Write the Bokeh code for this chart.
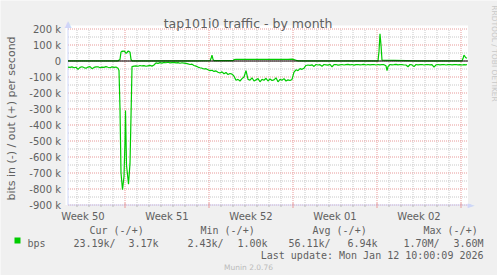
import math
from bokeh.plotting import figure
from bokeh.models import Label, BoxAnnotation
from bokeh.core.properties import value
from bokeh.embed import file_html
from bokeh.resources import INLINE

# ---------------- data (hours since left edge of graph, kbit/s) ----------------
in_hours = [0, 4, 8, 12, 16, 20, 24, 28, 32, 36, 40, 44, 48, 52, 56, 60, 64, 68, 72, 76,
            80, 84, 88, 92, 96, 100, 102, 104, 106, 109, 112, 114, 115, 117, 121, 124, 127, 128,
            132, 136, 140, 144, 148, 152, 156, 160, 164, 168, 172, 176, 180, 184, 188, 192,
            196, 200, 204, 208, 212, 216, 220, 224, 228, 232, 236, 240, 244, 248, 252, 256,
            260, 264, 268, 272, 276, 280, 284, 288, 292, 296, 300, 304, 308, 312, 316, 320,
            324, 328, 332, 336, 340, 344, 348, 352, 356, 360, 364, 368, 372, 376, 380, 384,
            388, 392, 396, 400, 404, 408, 412, 416, 420, 424, 428, 432, 436, 440, 444, 448,
            452, 456, 460, 464, 468, 472, 476, 480, 484, 488, 492, 496, 500, 504, 508, 512,
            516, 520, 524, 528, 532, 536, 540, 544, 548, 552, 556, 560, 564, 568, 572, 576,
            580, 584, 588, 592, 596, 600, 604, 608, 612, 616, 620, 624, 628, 632, 636, 638,
            640, 644, 648, 652, 656, 660, 664, 668, 672, 676, 680, 684, 688, 692, 696, 700,
            704, 708, 712, 716, 720, 724, 728, 732, 736, 740, 744, 748, 752, 756, 760, 764,
            768, 772, 776, 780, 784, 788, 792, 796, 798]
in_kbits = [38, 40, 37, 42, 39, 52, 40, 36, 41, 45, 38, 35, 48, 40, 37, 36, 42, 38, 40, 35,
            39, 42, 37, 40, 38, 45, 60, 300, 700, 805, 720, 500, 310, 650, 770, 640, 200, 35,
            32, 30, 33, 28, 31, 29, 33, 30, 27, 32, 25, 12, 15, 10, 13, 9,
            11, 8, 12, 10, 9, 12, 10, 14, 11, 13, 15, 18, 22, 20, 28, 32,
            38, 42, 45, 50, 48, 55, 60, 58, 65, 62, 70, 75, 68, 80, 72, 85,
            78, 82, 95, 120, 115, 125, 110, 100, 60, 115, 120, 105, 125, 118, 110, 130,
            115, 120, 108, 125, 112, 122, 118, 105, 130, 115, 120, 110, 125, 118, 122, 115,
            70, 55, 60, 48, 52, 45, 28, 25, 27, 24, 34, 22, 25, 23, 33, 22,
            24, 26, 21, 36, 23, 22, 26, 24, 22, 25, 23, 21, 24, 22, 26, 23,
            22, 24, 23, 21, 25, 22, 24, 23, 22, 25, 22, 24, 22, 23, 30, 60,
            35, 22, 24, 23, 21, 24, 22, 23, 25, 25, 36, 22, 24, 35, 22, 24,
            23, 22, 25, 23, 22, 24, 23, 38, 24, 22, 24, 23, 22, 25, 23, 22,
            24, 23, 22, 24, 23, 25, 23, 24, 22]

out_hours = [0, 40, 80, 100, 104, 106, 108, 110, 112, 114, 116, 118, 120, 122, 124, 126, 128,
             180, 240, 284, 286, 288, 290, 292, 330, 332, 336, 360, 400, 440, 448, 452, 456,
             460, 540, 600, 620, 622, 624, 626, 628, 700, 788, 790, 792, 794, 796, 798]
out_kbits = [1, 1, 1, 1, 10, 55, 62, 60, 63, 58, 48, 52, 62, 60, 55, 10, 1,
             1, 1, 2, 15, 37, 10, 2, 2, 9, 10, 11, 10, 10, 12, 9, 5,
             1, 1, 1, 1, 60, 170, 100, 5, 1, 1, 15, 37, 28, 20, 17]

week_labels = ["Week 50", "Week 51", "Week 52", "Week 01", "Week 02"]
week_label_days = [1.25, 8.25, 15.25, 22.25, 29.25]
week_start_days = [4.75, 11.75, 18.75, 25.75, 32.75]
day_ticks = [0.75, 1.75, 2.75, 3.75, 5.75, 6.75, 7.75, 8.75, 9.75, 10.75, 12.75, 13.75,
             14.75, 15.75, 16.75, 17.75, 19.75, 20.75, 21.75, 22.75, 23.75, 24.75, 26.75,
             27.75, 28.75, 29.75, 30.75, 31.75]

y_ticks = [200000, 100000, 0, -100000, -200000, -300000, -400000, -500000, -600000,
           -700000, -800000, -900000]
y_tick_labels = ["200 k", "100 k", "0", "-100 k", "-200 k", "-300 k", "-400 k", "-500 k",
                 "-600 k", "-700 k", "-800 k", "-900 k"]
y_minor = [150000, 50000, -50000, -150000, -250000, -350000, -450000, -550000, -650000,
           -750000, -850000]

legend_headers = ["Cur (-/+)", "Min (-/+)", "Avg (-/+)", "Max (-/+)"]
legend_values = ["23.19k/", "3.17k", "2.43k/", "1.00k", "56.11k/", "6.94k", "1.70M/", "3.60M"]
series_name = "bps"
title_text = "tap101i0 traffic - by month"
ylabel_text = "bits in (-) / out (+) per second"
last_update = "Last update: Mon Jan 12 10:00:09 2026"
watermark = "Munin 2.0.76"
side_text = "RRDTOOL / TOBI OETIKER"

# ---------------- layout / style ----------------
W, H = 497, 275
X0_PX = 67.5          # canvas x of the graph's left edge (day 0)
ZERO_PY = 60.5        # canvas y of value 0
DAY_PX = 12.0         # pixels per day
VAL_PER_PX = 6250.0   # value units per pixel (16 px per 100 k)
Y_MIN, Y_MAX = -900000, 200000
X_MAX = 400 / DAY_PX  # graph is 400 px wide

FONT = "#606060"
AXIS = "#CFD6F8"
MGRID = "#E89A9A"
GRID = "#C8C8C8"
GREEN = "#00CC00"

p = figure(width=W, height=H, output_backend="svg", toolbar_location=None,
           x_range=(-X0_PX / DAY_PX, (W - X0_PX) / DAY_PX),
           y_range=(-(H - ZERO_PY) * VAL_PER_PX, ZERO_PY * VAL_PER_PX),
           x_axis_type=None, y_axis_type=None,
           min_border=0, min_border_left=0, min_border_right=0,
           min_border_top=0, min_border_bottom=0)
p.background_fill_color = "#F0F0F0"
p.border_fill_color = "#F0F0F0"
p.outline_line_color = None

px_d = 1 / DAY_PX     # one pixel in days
px_v = VAL_PER_PX     # one pixel in value units

# white canvas of the graph
p.add_layout(BoxAnnotation(left=-2.5 * px_d, right=X_MAX, bottom=Y_MIN,
                           top=Y_MAX + 3.5 * px_v, fill_color="white", fill_alpha=1,
                           line_color=None, level="underlay"))

# grid (dotted)
n_d = len(day_ticks)
p.segment(x0=day_ticks, y0=[Y_MIN] * n_d, x1=day_ticks, y1=[Y_MAX] * n_d,
          line_color=GRID, line_width=1, line_dash="1 1")
n_ym = len(y_minor)
p.segment(x0=[0] * n_ym, y0=y_minor, x1=[X_MAX] * n_ym, y1=y_minor,
          line_color=GRID, line_width=1, line_dash="1 1")
n_w = len(week_start_days)
p.segment(x0=week_start_days, y0=[Y_MIN] * n_w, x1=week_start_days, y1=[Y_MAX] * n_w,
          line_color=MGRID, line_width=1, line_dash="1 1")
n_y = len(y_ticks)
p.segment(x0=[0] * n_y, y0=y_ticks, x1=[X_MAX] * n_y, y1=y_ticks,
          line_color=MGRID, line_width=1, line_dash="1 1")

# axes
p.segment(x0=[0], y0=[Y_MIN], x1=[0], y1=[Y_MAX + 4 * px_v], line_color=AXIS, line_width=1)
p.segment(x0=[0], y0=[Y_MIN], x1=[X_MAX + 3 * px_d], y1=[Y_MIN], line_color=AXIS,
          line_width=1)
p.segment(x0=day_ticks, y0=[Y_MIN] * n_d, x1=day_ticks, y1=[Y_MIN - 2 * px_v] * n_d,
          line_color="#B8B8B8", line_width=1)
p.segment(x0=week_start_days, y0=[Y_MIN + 2 * px_v] * n_w, x1=week_start_days,
          y1=[Y_MIN - 3 * px_v] * n_w, line_color=MGRID, line_width=1)

# y tick labels
p.text(x=[0] * n_y, y=y_ticks, text=y_tick_labels, x_offset=-7,
       text_font=value("DejaVu Sans"), text_font_size="10px", text_color=FONT,
       text_align="right", text_baseline="middle")

# data
in_days = [h / 24 for h in in_hours]
in_vals = [-k * 1000 for k in in_kbits]
out_days = [h / 24 for h in out_hours]
out_vals = [k * 1000 for k in out_kbits]

p.line(in_days, in_vals, line_color=GREEN, line_width=1.2)
p.line(out_days, out_vals, line_color=GREEN, line_width=1.2)
p.segment(x0=[0], y0=[0], x1=[X_MAX], y1=[0], line_color="black", line_width=1)


def lab(text, cx, cy, size, font="DejaVu Sans", color=FONT, align="left",
        baseline="alphabetic", angle=0.0):
    p.add_layout(Label(x=cx, y=H - cy, x_units="screen", y_units="screen", text=text,
                       text_font=font, text_font_size=size, text_color=color,
                       text_align=align, text_baseline=baseline, angle=angle))


# title, axis label, side text
lab(title_text, 247.5, 23, "12.5px", align="center")
lab(ylabel_text, 11, 118, "11px", align="center", baseline="middle", angle=math.pi / 2)
lab(side_text, 493.5, 53, "7.5px", color="#C8C8C8", align="center", baseline="middle",
    angle=-math.pi / 2)

# axis arrows
lab("\u25B2", 67.5, 23, "9px", color=AXIS, align="center", baseline="middle")
lab("\u25BA", 470.5, 204.5, "9px", color=AXIS, align="center", baseline="middle")

# week labels at mid-week
for d, t in zip(week_label_days, week_labels):
    p.add_layout(Label(x=d, y=H - 216, x_units="data", y_units="screen", text=t,
                       text_font="DejaVu Sans", text_font_size="10px", text_color=FONT,
                       text_align="center", text_baseline="alphabetic"))

# legend
MONO = "DejaVu Sans Mono"
for t, cx in zip(legend_headers, [89, 200, 312, 423]):
    lab(t, cx, 230, "10px", font=MONO)
p.add_layout(BoxAnnotation(left=14, right=20, top=H - 237, bottom=H - 243,
                           left_units="screen", right_units="screen", top_units="screen",
                           bottom_units="screen", fill_color=GREEN, fill_alpha=1,
                           line_color=None))
lab(series_name, 27, 242.5, "10px", font=MONO)
for t, cx in zip(legend_values, [73, 128, 187, 237, 288, 347, 403, 453]):
    lab(t, cx, 242.5, "10px", font=MONO)
lab(last_update, 483, 255, "10px", font=MONO, align="right")
lab(watermark, 248, 266.5, "7.5px", color="#BBBBBB", align="center")

open("out.html", "w").write(file_html(p, INLINE))
